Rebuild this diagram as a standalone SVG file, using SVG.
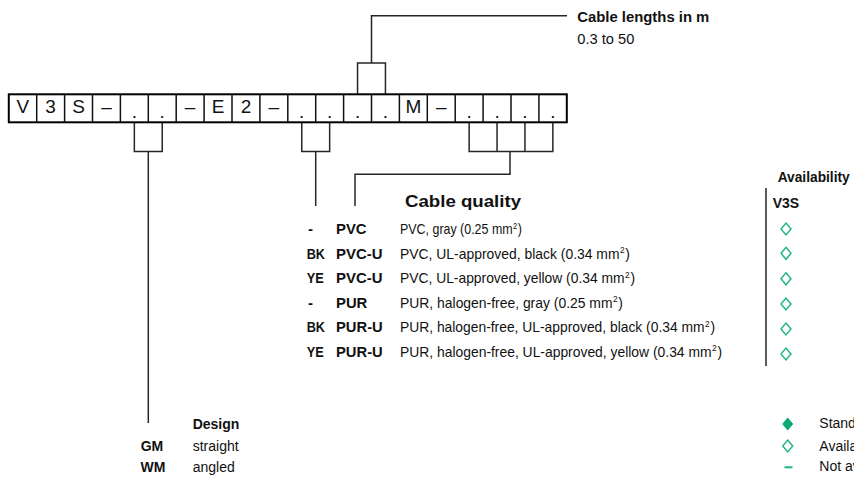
<svg xmlns="http://www.w3.org/2000/svg" width="854" height="479" viewBox="0 0 854 479">
<style>
text{font-family:"Liberation Sans",Arial,sans-serif;fill:#111}
.t{font-size:14px}
.d{font-size:15px}
.b{font-size:14px;font-weight:bold}
.c{font-size:15px;font-weight:bold}
.h{font-size:16px;font-weight:bold}
.sup{font-size:9px}
.cell{font-size:19px;text-anchor:middle}
.ln{fill:none;stroke:#262626;stroke-width:1.5}
.frame{fill:#fff;stroke:#000;stroke-width:2}
.sep{stroke:#111;stroke-width:1.5}
.dia{fill:none;stroke:#1db57e;stroke-width:1.4}
.diaf{fill:#0fa872;stroke:#0fa872;stroke-width:1}
</style>
<defs>
<path id="d" d="M0,-6 L5,0 L0,6 L-5,0 Z"/>
</defs>
<rect width="854" height="479" fill="#fff"/>

<g id="connectors">
<path class="ln" d="M357.55,94.3 V63 H385.45 V94.3 M371.5,63 V15.7 H567"/>
<path class="ln" d="M134.35,122.3 V151.5 H162.25 V122.3 M148.3,151.5 V423"/>
<path class="ln" d="M301.75,122.3 V151.5 H329.65 V122.3 M315.7,151.5 V206"/>
<path class="ln" d="M469.15,122.3 V151.5 H552.85 V122.3 M497.05,122.3 V151.5 M524.95,122.3 V151.5 M510,151.5 V174.3 H355 V206"/>
<path class="ln" d="M766,188 V366"/>
</g>

<g id="code">
<rect class="frame" x="8.8" y="94.3" width="558" height="28"/>
<path class="sep" d="M36.7,94.3V122.3M64.6,94.3V122.3M92.5,94.3V122.3M120.4,94.3V122.3M148.3,94.3V122.3M176.2,94.3V122.3M204.1,94.3V122.3M232,94.3V122.3M259.9,94.3V122.3M287.8,94.3V122.3M315.7,94.3V122.3M343.6,94.3V122.3M371.5,94.3V122.3M399.4,94.3V122.3M427.3,94.3V122.3M455.2,94.3V122.3M483.1,94.3V122.3M511,94.3V122.3M538.9,94.3V122.3"/>
<text class="cell" x="22.75" y="112.7">V</text>
<text class="cell" x="50.65" y="112.7">3</text>
<text class="cell" x="78.55" y="112.7">S</text>
<text class="cell" x="106.45" y="112.7">–</text>
<text class="cell" x="134.35" y="117.5">.</text>
<text class="cell" x="162.25" y="117.5">.</text>
<text class="cell" x="190.15" y="112.7">–</text>
<text class="cell" x="218.05" y="112.7">E</text>
<text class="cell" x="245.95" y="112.7">2</text>
<text class="cell" x="273.85" y="112.7">–</text>
<text class="cell" x="301.75" y="117.5">.</text>
<text class="cell" x="329.65" y="117.5">.</text>
<text class="cell" x="357.55" y="117.5">.</text>
<text class="cell" x="385.45" y="117.5">.</text>
<text class="cell" x="413.35" y="112.7">M</text>
<text class="cell" x="441.25" y="112.7">–</text>
<text class="cell" x="469.15" y="117.5">.</text>
<text class="cell" x="497.05" y="117.5">.</text>
<text class="cell" x="524.95" y="117.5">.</text>
<text class="cell" x="552.85" y="117.5">.</text>
</g>

<g id="cable-length">
<text class="b" x="577.3" y="21.7" font-size="15" textLength="132" lengthAdjust="spacingAndGlyphs">Cable lengths in m</text>
<text class="d" x="577.3" y="44" textLength="57" lengthAdjust="spacingAndGlyphs">0.3 to 50</text>
</g>

<g id="cable-quality">
<text class="h" x="405" y="207" textLength="116" lengthAdjust="spacingAndGlyphs">Cable quality</text>
<text class="c" x="308" y="234.3">-</text>
<text class="c" x="336" y="234.3" textLength="30.5" lengthAdjust="spacingAndGlyphs">PVC</text>
<text class="d" x="400" y="234.3" textLength="122" lengthAdjust="spacingAndGlyphs">PVC, gray (0.25 mm<tspan class="sup" dx="0.5" dy="-5.5">2</tspan><tspan dx="0.8" dy="5.5">)</tspan></text>
<text class="c" x="306.7" y="258.8" textLength="18.3" lengthAdjust="spacingAndGlyphs">BK</text>
<text class="c" x="336" y="258.8" textLength="46.5" lengthAdjust="spacingAndGlyphs">PVC-U</text>
<text class="d" x="400" y="258.8" textLength="230" lengthAdjust="spacingAndGlyphs">PVC, UL-approved, black (0.34 mm<tspan class="sup" dx="0.5" dy="-5.5">2</tspan><tspan dx="0.8" dy="5.5">)</tspan></text>
<text class="c" x="306.7" y="283.3" textLength="17" lengthAdjust="spacingAndGlyphs">YE</text>
<text class="c" x="336" y="283.3" textLength="46.5" lengthAdjust="spacingAndGlyphs">PVC-U</text>
<text class="d" x="400" y="283.3" textLength="235" lengthAdjust="spacingAndGlyphs">PVC, UL-approved, yellow (0.34 mm<tspan class="sup" dx="0.5" dy="-5.5">2</tspan><tspan dx="0.8" dy="5.5">)</tspan></text>
<text class="c" x="308" y="307.8">-</text>
<text class="c" x="336" y="307.8" textLength="31.3" lengthAdjust="spacingAndGlyphs">PUR</text>
<text class="d" x="400" y="307.8" textLength="223" lengthAdjust="spacingAndGlyphs">PUR, halogen-free, gray (0.25 mm<tspan class="sup" dx="0.5" dy="-5.5">2</tspan><tspan dx="0.8" dy="5.5">)</tspan></text>
<text class="c" x="306.7" y="332.3" textLength="18.3" lengthAdjust="spacingAndGlyphs">BK</text>
<text class="c" x="336" y="332.3" textLength="46.7" lengthAdjust="spacingAndGlyphs">PUR-U</text>
<text class="d" x="400" y="332.3" textLength="315" lengthAdjust="spacingAndGlyphs">PUR, halogen-free, UL-approved, black (0.34 mm<tspan class="sup" dx="0.5" dy="-5.5">2</tspan><tspan dx="0.8" dy="5.5">)</tspan></text>
<text class="c" x="306.7" y="356.8" textLength="17" lengthAdjust="spacingAndGlyphs">YE</text>
<text class="c" x="336" y="356.8" textLength="46.7" lengthAdjust="spacingAndGlyphs">PUR-U</text>
<text class="d" x="400" y="356.8" textLength="322" lengthAdjust="spacingAndGlyphs">PUR, halogen-free, UL-approved, yellow (0.34 mm<tspan class="sup" dx="0.5" dy="-5.5">2</tspan><tspan dx="0.8" dy="5.5">)</tspan></text>
</g>

<g id="availability">
<text class="b" x="777.7" y="181.7" textLength="72" lengthAdjust="spacingAndGlyphs">Availability</text>
<text class="b" x="772.7" y="207.7">V3S</text>
<use href="#d" class="dia" x="786" y="229"/>
<use href="#d" class="dia" x="786" y="253.3"/>
<use href="#d" class="dia" x="786" y="278.8"/>
<use href="#d" class="dia" x="786" y="304"/>
<use href="#d" class="dia" x="786" y="329"/>
<use href="#d" class="dia" x="786" y="354"/>
</g>

<g id="design">
<text class="b" x="192.7" y="429.3" font-size="14.5">Design</text>
<text class="b" x="140.7" y="450.7">GM</text>
<text class="t" x="192.7" y="450.7">straight</text>
<text class="b" x="140.5" y="471.7">WM</text>
<text class="t" x="192.7" y="471.7">angled</text>
</g>

<g id="legend">
<use href="#d" class="diaf" x="787.7" y="424"/>
<use href="#d" class="dia" x="787.7" y="446"/>
<path d="M784.5,467.3 H792.5" stroke="#1db57e" stroke-width="2"/>
<text class="t" x="819.3" y="428.3">Standard</text>
<text class="t" x="819.3" y="450.7">Available</text>
<text class="t" x="819.3" y="471">Not available</text>
</g>
</svg>
